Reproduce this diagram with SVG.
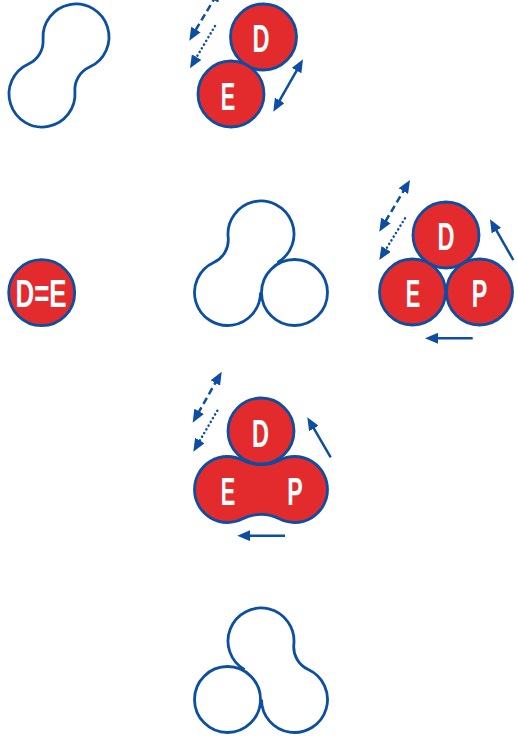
<svg xmlns="http://www.w3.org/2000/svg" width="518" height="737" viewBox="0 0 518 737">
<defs>
<style>
.o{fill:none;stroke:#0B4EA2;stroke-width:2.8}
.w{fill:#fff;stroke:#0B4EA2;stroke-width:2.8}
.r{fill:#E32B2E;stroke:#0B4EA2;stroke-width:2.8}
.t{font-family:"Liberation Sans Narrow","Liberation Sans",Arial,sans-serif;font-weight:bold;font-size:39px;fill:#fff;text-anchor:middle}
.a{fill:none;stroke:#0B4EA2;stroke-width:2.5}
.dash{stroke-dasharray:7 4}
.dot{stroke-dasharray:0.1 4.2;stroke-linecap:round}
</style>
<marker id="ah" viewBox="0 0 13 11" refX="5" refY="5.5" markerWidth="13" markerHeight="11" markerUnits="userSpaceOnUse" orient="auto-start-reverse">
<path d="M0,0 L13,5.5 L0,11 z" fill="#0B4EA2"/>
</marker>
</defs>
<rect width="518" height="737" fill="#fff"/>

<g id="shape-peanut">
<path class="o" d="M89.57,67.08 A33,33 0 1 0 43.08,39.35 A25,25 0 0 1 28.43,63.92 A33,33 0 1 0 74.92,91.65 A25,25 0 0 1 89.57,67.08 Z"/>
</g>

<g id="node-D1">
<circle class="r" cx="263.5" cy="37" r="33"/>
<text class="t" x="261" y="51.7" textLength="17" lengthAdjust="spacingAndGlyphs">D</text>
</g>
<g id="node-E1">
<circle class="r" cx="231" cy="94" r="33"/>
<text class="t" x="228" y="110" textLength="14.5" lengthAdjust="spacingAndGlyphs">E</text>
</g>

<g id="node-DE">
<circle class="r" cx="41.7" cy="292.7" r="33"/>
<text class="t" x="41" y="306.7" textLength="51" lengthAdjust="spacingAndGlyphs">D=E</text>
</g>

<g id="shape-trefoil-mid">
<path class="o" d="M277.4,262.64 A33,33 0 1 0 228.16,237.29 A25,25 0 0 1 213.72,262.51 A33,33 0 1 0 260.5,292.5"/>
<circle class="w" cx="294.5" cy="292.5" r="33"/>
</g>

<g id="node-D2">
<circle class="r" cx="446" cy="235" r="33"/>
<text class="t" x="446" y="250" textLength="17" lengthAdjust="spacingAndGlyphs">D</text>
</g>
<g id="node-E2">
<circle class="r" cx="412.5" cy="292" r="33"/>
<text class="t" x="413" y="306.7" textLength="14.5" lengthAdjust="spacingAndGlyphs">E</text>
</g>
<g id="node-P2">
<circle class="r" cx="479.5" cy="292" r="33"/>
<text class="t" x="479.5" y="306.7" textLength="15.5" lengthAdjust="spacingAndGlyphs">P</text>
</g>

<g id="node-EP3">
<path class="r" d="M242.65,460.18 A33,33 0 1 0 242.65,518.82 A40,40 0 0 1 279.35,518.82 A33,33 0 1 0 279.35,460.18 A40,40 0 0 1 242.65,460.18 Z"/>
<text class="t" x="228" y="505" textLength="14.5" lengthAdjust="spacingAndGlyphs">E</text>
<text class="t" x="295" y="505" textLength="15.5" lengthAdjust="spacingAndGlyphs">P</text>
</g>
<g id="node-D3">
<circle class="r" cx="261" cy="431" r="33"/>
<text class="t" x="260.5" y="446.7" textLength="17" lengthAdjust="spacingAndGlyphs">D</text>
</g>

<g id="shape-trefoil-bottom">
<path class="o" d="M244.6,669.64 A33,33 0 1 1 293.84,644.29 A25,25 0 0 0 308.28,669.51 A33,33 0 1 1 261.5,699.5"/>
<circle class="w" cx="227.5" cy="699.5" r="33"/>
</g>

<g id="connectors">
<line class="a dash" x1="216.2" y1="-4.43" x2="193.4" y2="33.83" marker-start="url(#ah)" marker-end="url(#ah)"/>
<line class="a dot" x1="215" y1="26" x2="194.07" y2="61.41" marker-end="url(#ah)"/>
<line class="a" x1="299.06" y1="66.26" x2="277.24" y2="104.74" marker-start="url(#ah)" marker-end="url(#ah)"/>

<line class="a dash" x1="405.92" y1="186.88" x2="383.38" y2="224.82" marker-start="url(#ah)" marker-end="url(#ah)"/>
<line class="a dot" x1="405" y1="218.3" x2="383.5" y2="253.19" marker-end="url(#ah)"/>
<line class="a" x1="513.3" y1="260" x2="493.97" y2="226.24" marker-end="url(#ah)"/>
<line class="a" x1="472.7" y1="338.3" x2="433" y2="338.3" marker-end="url(#ah)"/>

<line class="a dash" x1="217.75" y1="378.65" x2="196.65" y2="415.75" marker-start="url(#ah)" marker-end="url(#ah)"/>
<line class="a dot" x1="217.3" y1="410.7" x2="197.34" y2="444.79" marker-end="url(#ah)"/>
<line class="a" x1="330.7" y1="457.3" x2="311.34" y2="424.2" marker-end="url(#ah)"/>
<line class="a" x1="285" y1="535.7" x2="245.3" y2="535.7" marker-end="url(#ah)"/>
</g>
</svg>
